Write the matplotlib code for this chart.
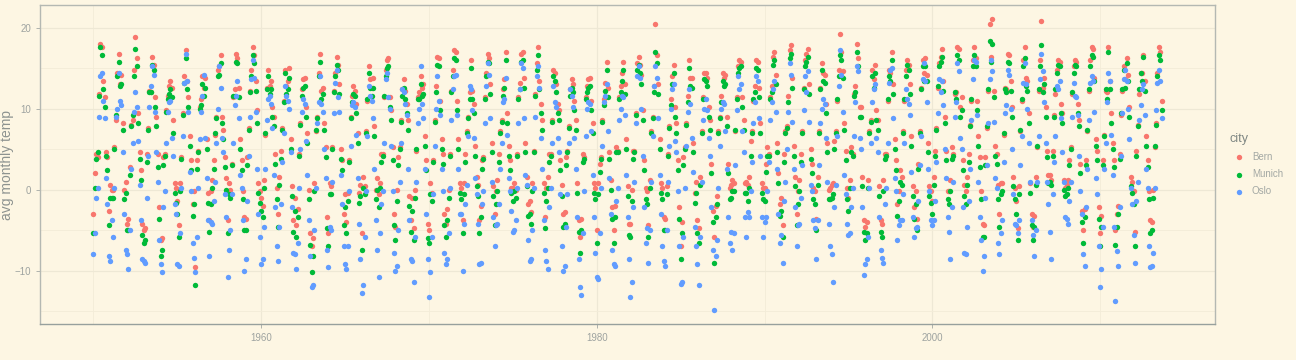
import numpy as np
import matplotlib
matplotlib.use("Agg")
import matplotlib.pyplot as plt

plt.rcParams['font.family'] = ['Liberation Sans', 'DejaVu Sans']

cities = ["Bern", "Munich", "Oslo"]
colors = ["#F8766D", "#00BA38", "#619CFF"]
first_year = 1950

# typical monthly mean per city, Jan..Dec (deg C)
bern_clim = [-1.8, -0.8, 2.8, 6.4, 10.6, 14.0, 15.6, 15.0, 12.2, 7.8, 2.8, -0.6]
munich_clim = [-3.0, -1.8, 2.2, 6.6, 10.8, 13.6, 15.0, 14.4, 11.4, 7.0, 2.0, -1.6]
oslo_clim = [-6.0, -6.2, -2.6, 2.2, 7.8, 12.0, 13.6, 12.6, 8.4, 3.8, -1.0, -4.6]

# monthly departures, one string per year (1950..2013),
# one letter per month: A..Z = -10.4..-0.4, a..z = 0..+10.0 (steps of 0.4)
bern_dev = [
    "XheUdkfWYSdV", "gcTXVbdVfbTe", "UTaeVcidTSZR", "SQedeVcbYdeW", "PNdVYUTWbcVc",
    "bRVUXaeWYXcX", "eEcWZTWUeWSS", "efcbWcZeSZdf", "VeTScWddbWcb", "WTddecfedfVb",
    "cXWbfcTWVdec", "XgfdbcTWhWUS", "cRNVUWVXVYTO", "NNVcWbdTbbgT", "ReUXebcbcTcU",
    "dSSTWUTTWYSd", "RgUcbdVUeaTf", "deeVccbdYfgU", "TcdXVWVTWcRS", "cQTWcVWUcXcR",
    "SeSTVXcdXWeU", "UWTVecefXWVc", "VeecWVbTWUXd", "VXcUcbddcVUU", "efecVWVfTUcc",
    "feTVcYdfeVXX", "bVVWdefWWcVT", "fgeVVcXVWfcd", "XVdWTWVVXcVS", "QTeUcXVXXbVc",
    "SebUVTUcbSWW", "SXgWcXXccWUR", "UcfWXecbffcc", "eRWcWXmecWVc", "WTUVTTWbVbcW",
    "NSdXUUbXeVSe", "VQXccbXXVcbV", "QXRcWUXXfdbc", "gfVccdbcYcVe", "ggicbXbcbbVc",
    "fkgVcXcffVYX", "cRecTUeheUXU", "efecffdgcTbc", "eTXcfeXYWVTc", "geicbcjfgbfc",
    "cfgVdXgdVgXS", "TSWcVcVbUcUS", "UfeVbcXfcWcX", "eiXcbcbbcXUW", "eTbcffXdfVUb",
    "bgfdfecgddfb", "efgVdVfgVjcd", "egeebffdXXdb", "URddeqcpaUed", "XeVbfWdedgXc",
    "bQUcbffXdeVU", "TUXXefnUegfg", "jffhdcbcWeWc", "gfcXddbcWcbV", "SWcceffgeWfW",
    "RUcbeVfWTVcP", "XXehedVdfgXe", "ePfedbXedXcb", "VSTXUbffX",
]
munich_dev = [
    "UfeVckeVXTbT", "fcSWWbcWebSd", "VSZdWbgcSSYQ", "RPdcdWbbXccV", "NMcUXUSVaaUa",
    "aQUTWZdVXWbW", "dBbVYSVTdVRR", "dfbbVbYdSYce", "UdSRcVcdaVbb", "VSccdbedcdUa",
    "bWVbebSVUcdb", "WgecacSVgVTR", "bQMUTVUWUXSN", "IKUcVbcSbbfS", "QdTWdbbbbSbT",
    "cRRSVTSTVXRc", "PfTbbcUTdZSe", "cfdUcbacXeeT", "SbcWUVUSVbQR", "bPSWbUVTbWbP",
    "RdRSUWbcWVdT", "TVSUdbdeWVUb", "UddbVUaSVTWc", "UWbTbbcdbUTT", "dedbUVUeSTbd",
    "eeSUbXcedUWW", "aUUVcdeVVbUS", "efdUUbWUVebc", "WUcVSVUUWbUR", "OSdTbWUWWaUb",
    "RdaTUSTbaSVV", "RWgVbWWbbVTQ", "TbeVWdbaeebb", "dQVbVWfdbVUb", "VSTUSSVaUabV",
    "MRcWTTaWdURd", "UOWbbaWWUbaU", "LWQbVTWWecab", "feUcbcacXbUd", "effbbWabaaUb",
    "ekfUbWbeeUXW", "bQdbSTdgdTWT", "dedbeecfbSab", "dSWbedWXVUSb", "fdhbbbeegbeb",
    "bfgUcWfcUfWR", "SRVbUbUaTbTR", "TeeUbbWebVbW", "ehWbbbbbbWTV", "dSbbeeWcfUTa",
    "agfcfecfcdeb", "deeUdUeeUhbc", "dgddbeecWWcb", "TQcdemcjaTdb", "WdUbeWcdcfWb",
    "aPTcbedWcdUT", "STWXeehUeffg", "kgfgecbcVdVc", "gfcWdcbcVcaU", "RWcceeeffWeV",
    "QTcaeUfVSVcN", "WXehedUdffWd", "dNfdecWfcWcb", "USSXTbeeW",
]
oslo_dev = [
    "VceVdfcWbUYR", "TgSVdVcWfcVT", "VRUbVUWUUSTQ", "TTefgceedcfW", "SQbUVUTWVbYe",
    "SSTVXdicdWcV", "UQSVWUVeVUTR", "ffdXVVeaVcbd", "OXUTVWVcbVdc", "QUdfdegddXVX",
    "SUVbcYVVYVXU", "TecdYcVWecXS", "VRQVTUUVUVTR", "LMUVbXbVddgT", "ReUXeddXdVYU",
    "SRPUUWTUWUSQ", "JMSUXcVWbXTT", "OccUVecXeecS", "QSUXVbWVcXTQ", "TNSXbVeVbXVQ",
    "IQSTUVbWcXcS", "SUTVcbbecXVe", "QfcWXcXTVUbb", "STcUbcfebTUU", "efcbVXUdWUcf",
    "cdXVbbfgbVeW", "TUUVdfeaVXTT", "TRbVVcTUVcbU", "QSVTVbVUVXUQ", "LJTUXVTVXVUS",
    "OOTVUXVbXUVT", "SSdVcVVXcVUQ", "INbXbfedebXV", "dTUXXcedbVVU", "TSUXUVXbUccU",
    "MNSVUUXVVWRU", "SMSXcVUTVbXT", "EVRVUVTVXXUV", "cXTcffXbXcUX", "ihgdbXbcbbUX",
    "fhgdcXXcdXVV", "bTdXTUfeaXXU", "efecffWfaScc", "dUXcbVUVVTSU", "VNbWXcjedVbb",
    "bcbVXXefVdXL", "SUSVVXXbVcUT", "UTcVVddgbUcW", "egXTVbUVcWUX", "dedcXefcgXcc",
    "egddeeWcfdgd", "cUbXdXffVdXS", "VedbcegicTUW", "QVecbegfaUdV", "VcXdeWdeedbb",
    "ecXcXdfbeffc", "bVUXXeifgffh", "cUfdXcXcbcfd", "gfdXddVXcbce", "VSbbcdbcdUbU",
    "LRVbVXccWVRD", "WSbfeedcegdh", "bTdXcWXbcXdU", "RSNVfddcb",
]

letters = "ABCDEFGHIJKLMNOPQRSTUVWXYZabcdefghijklmnopqrstuvwxyz"


def monthly_series(clim, dev):
    t, v = [], []
    for i, row in enumerate(dev):
        for m, ch in enumerate(row):
            t.append(first_year + i + m / 12)
            v.append(clim[m] + (letters.index(ch) - 26) * 0.4)
    return np.array(t), np.array(v)


bad = [(c, i) for c, d in zip(cities, [bern_dev, munich_dev, oslo_dev])
       for i, r in enumerate(d) if len(r) != 12 and i != len(d) - 1]
assert not bad, bad

fig = plt.figure(figsize=(12.96, 3.6), dpi=100)
bg = "#fdf6e3"
fig.patch.set_facecolor(bg)
ax = fig.add_axes([40 / 1296, 36 / 360, 1175 / 1296, 319 / 360])
ax.set_facecolor(bg)

for name, col, clim, dev in zip(cities, colors,
                                [bern_clim, munich_clim, oslo_clim],
                                [bern_dev, munich_dev, oslo_dev]):
    t, v = monthly_series(clim, dev)
    ax.scatter(t, v, s=15, color=col, linewidths=0, label=name, zorder=3)

ax.margins(x=0.05, y=0.05)
ax.set_xticks([1960, 1980, 2000])
ax.set_xticks([1950, 1970, 1990, 2010], minor=True)
ax.set_yticks([-10, 0, 10, 20])
ax.set_yticks([-15, -5, 5, 15], minor=True)
ax.grid(which="major", color="#eee8d5", lw=0.9, zorder=0)
ax.grid(which="minor", color="#f3ecd8", lw=0.6, zorder=0)
ax.tick_params(which="major", colors="#a3a8a4", labelcolor="#9ea3a0",
               labelsize=7, length=3, width=0.6)
ax.tick_params(which="minor", length=0)
for s in ax.spines.values():
    s.set_color("#b4b8b2")
    s.set_linewidth(1.0)
ax.spines["bottom"].set_color("#97a09d")
ax.set_ylabel("avg monthly temp", color="#8d9390", fontsize=10)
ax.yaxis.set_label_coords(-26 / 1175, 0.5)

leg = ax.legend(loc="center left", bbox_to_anchor=(1.004, 0.5), frameon=False,
                title="city", fontsize=7, title_fontsize=9, handletextpad=0.3,
                markerscale=1.0, borderaxespad=0.6, alignment="left",
                labelspacing=0.75)
leg.get_title().set_color("#7f8783")
for txt in leg.get_texts():
    txt.set_color("#a3a8a4")

fig.savefig("out.png", dpi=100, facecolor=bg)
